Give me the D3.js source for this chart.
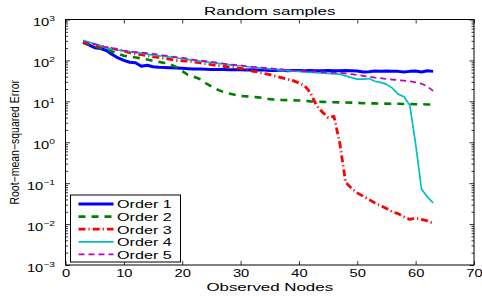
<!DOCTYPE html>
<html>
<head>
<meta charset="utf-8">
<script src="https://cdn.jsdelivr.net/npm/d3@7"></script>
<style>
  body { margin: 0; background: #fff; }
  text { font-family: "Liberation Sans", Arial, sans-serif; fill: #000; }
</style>
</head>
<body>
<div id="chart"></div>
<script>
var width = 482;
var height = 297;

// observed nodes (x) and RMSE per order
var nodes = [3, 4, 5, 6, 7, 8, 9, 10, 11, 12, 13, 14, 15, 16, 17, 18, 19, 20, 21, 22,
  23, 24, 25, 26, 27, 28, 29, 30, 31, 32, 33, 34, 35, 36, 37, 38, 39, 40, 41, 42,
  43, 44, 45, 46, 47, 48, 49, 50, 51, 52, 53, 54, 55, 56, 57, 58, 59, 60, 61, 62, 63];

var order1 = [275, 240, 205, 195, 175, 140, 115, 100, 90, 88, 72, 76, 70, 68, 67, 66, 65, 64, 63, 62,
  62, 61, 60, 60, 60, 59, 59, 59, 58, 59, 58, 58, 57, 57, 58, 56, 57, 57, 56, 57,
  56, 56, 57, 56, 56, 57, 56, 55, 52, 53, 55, 54, 55, 54, 54, 52, 54, 55, 52, 56, 54];

var order2 = [270, 245, 220, 200, 185, 165, 145, 130, 125, 118, 112, 105, 98, 92, 86, 80, 68, 55, 44, 40,
  35, 28, 23, 19.5, 17, 15.5, 14.5, 13.5, 13.2, 13, 12.5, 12, 11.3, 11, 10.8, 10.7, 10.6, 10.5, 10.3, 10,
  9.8, 9.7, 9.6, 9.5, 9.4, 9.4, 9.3, 9.2, 9.0, 8.9, 8.9, 8.8, 8.8, 8.7, 8.7, 8.6, 8.6, 8.5, 8.5, 8.4, 8.4];

var order3 = [285, 260, 240, 220, 210, 195, 185, 170, 155, 145, 138, 130, 122, 118, 112, 106, 100, 98, 96, 92,
  88, 83, 79, 75, 72, 69, 66, 64, 60, 55, 52, 48, 45, 41, 38, 35, 32, 28, 24, 16,
  8, 5.5, 4.0, 4.3, 0.95, 0.105, 0.075, 0.058, 0.048, 0.04, 0.033, 0.028, 0.024, 0.02, 0.018, 0.015, 0.013, 0.014, 0.013, 0.012, 0.0105];

var order4 = [310, 280, 255, 230, 205, 190, 180, 172, 165, 158, 150, 142, 135, 130, 125, 120, 116, 110, 105, 100,
  96, 92, 88, 85, 82, 79, 76, 74, 71, 68, 66, 64, 62, 60, 58, 56, 55, 54, 52, 51,
  50, 49, 48, 47, 46, 42, 38, 35, 35, 36, 31, 29, 26, 21, 15, 13, 8, 0.9, 0.072, 0.046, 0.033];

var order5 = [290, 270, 250, 225, 210, 195, 180, 172, 165, 160, 155, 150, 145, 138, 132, 125, 120, 115, 110, 104,
  100, 96, 92, 88, 84, 80, 78, 76, 72, 70, 68, 66, 64, 62, 60, 59, 57, 56, 55, 54,
  53, 52, 51, 50, 50, 48, 46, 44, 42, 40, 38, 37, 35, 34, 33, 32, 31, 29, 27, 23, 18];

var seriesNames = ['Order 1', 'Order 2', 'Order 3', 'Order 4', 'Order 5'];
var xTicks = [0, 10, 20, 30, 40, 50, 60, 70];
var yTickExps = [-3, -2, -1, 0, 1, 2, 3];

(function() {
  var styles = [
    { color: '#0000ff', w: 3, dash: null },
    { color: '#008000', w: 2.6, dash: '7,6' },
    { color: '#ff0000', w: 2.8, dash: '7,3,1.2,3' },
    { color: '#00bfbf', w: 1.7, dash: null },
    { color: '#bf00bf', w: 1.7, dash: '6,4' }
  ];

  var pLeft = 65.5, pRight = 474, pTop = 19.5, pBottom = 265;
  var stretch = 1.47;

  var svg = d3.select('#chart').append('svg')
    .attr('width', width)
    .attr('height', height);

  var x = d3.scaleLinear().domain([0, 70]).range([pLeft, pRight]);
  var y = d3.scaleLog().domain([1e-3, 1e3]).range([pBottom, pTop]);

  // minor log ticks
  var minor = [];
  yTickExps.slice(0, -1).forEach(function(e) {
    for (var k = 2; k <= 9; k++) minor.push(k * Math.pow(10, e));
  });

  svg.append('clipPath').attr('id', 'plotclip')
    .append('rect')
    .attr('x', pLeft).attr('y', pTop)
    .attr('width', pRight - pLeft).attr('height', pBottom - pTop);

  var lineGroup = svg.append('g').attr('clip-path', 'url(#plotclip)');
  var line = d3.line()
    .x(function(d) { return x(d[0]); })
    .y(function(d) { return y(d[1]); });

  [order1, order2, order3, order4, order5].forEach(function(vals, i) {
    var pts = nodes.map(function(n, j) { return [n, vals[j]]; });
    lineGroup.append('path')
      .datum(pts)
      .attr('d', line)
      .attr('fill', 'none')
      .attr('stroke', styles[i].color)
      .attr('stroke-width', styles[i].w)
      .attr('stroke-dasharray', styles[i].dash)
      .attr('stroke-linejoin', 'round');
  });

  // axes, inward ticks on all four sides
  function styleAxis(g) {
    g.select('.domain').remove();
    g.selectAll('line').attr('stroke', '#000').attr('stroke-width', 0.8);
  }

  svg.append('g')
    .attr('transform', 'translate(0,' + pBottom + ')')
    .call(d3.axisBottom(x).tickValues(xTicks).tickSize(-4).tickPadding(5).tickFormat(d3.format('d')))
    .call(styleAxis)
    .call(function(g) {
      g.selectAll('text')
        .attr('font-size', 10)
        .attr('font-family', '"Liberation Sans", Arial, sans-serif')
        .attr('transform', 'scale(' + stretch + ',1)');
    });

  svg.append('g')
    .attr('transform', 'translate(0,' + pTop + ')')
    .call(d3.axisTop(x).tickValues(xTicks).tickSize(-4).tickFormat(''))
    .call(styleAxis);

  var yMajor = yTickExps.map(function(e) { return Math.pow(10, e); });

  svg.append('g')
    .attr('transform', 'translate(' + pLeft + ',0)')
    .call(d3.axisLeft(y).tickValues(yMajor).tickSize(-4.5).tickFormat(''))
    .call(styleAxis);
  svg.append('g')
    .attr('transform', 'translate(' + pLeft + ',0)')
    .call(d3.axisLeft(y).tickValues(minor).tickSize(-2.5).tickFormat(''))
    .call(styleAxis);
  svg.append('g')
    .attr('transform', 'translate(' + pRight + ',0)')
    .call(d3.axisRight(y).tickValues(yMajor).tickSize(-4.5).tickFormat(''))
    .call(styleAxis);
  svg.append('g')
    .attr('transform', 'translate(' + pRight + ',0)')
    .call(d3.axisRight(y).tickValues(minor).tickSize(-2.5).tickFormat(''))
    .call(styleAxis);

  // y tick labels 10^e
  var yLab = svg.append('g');
  yTickExps.forEach(function(e) {
    var g = yLab.append('g')
      .attr('transform', 'translate(' + (pLeft - 10.5) + ',' + (y(Math.pow(10, e)) + 6.5) + ') scale(' + stretch + ',1)');
    var t = g.append('text').attr('text-anchor', 'end').attr('font-size', 10);
    t.append('tspan').text('10');
    t.append('tspan').attr('font-size', 7).attr('dy', -5).text(e < 0 ? '\u2212' + (-e) : e);
  });

  // box
  svg.append('rect')
    .attr('x', pLeft).attr('y', pTop)
    .attr('width', pRight - pLeft).attr('height', pBottom - pTop)
    .attr('fill', 'none').attr('stroke', '#000').attr('stroke-width', 1);

  // title and axis labels
  svg.append('g')
    .attr('transform', 'translate(' + ((pLeft + pRight) / 2) + ',15) scale(' + stretch + ',1)')
    .append('text').attr('text-anchor', 'middle').attr('font-size', 11.5)
    .text('Random samples');

  svg.append('g')
    .attr('transform', 'translate(' + ((pLeft + pRight) / 2) + ',291) scale(' + stretch + ',1)')
    .append('text').attr('text-anchor', 'middle').attr('font-size', 11.5)
    .text('Observed Nodes');

  svg.append('g')
    .attr('transform', 'translate(19,' + ((pTop + pBottom) / 2) + ') scale(1.15,1) rotate(-90)')
    .append('text')
    .attr('text-anchor', 'middle').attr('font-size', 10.5)
    .text('Root\u2212mean\u2212squared Error');

  // legend
  var legend = svg.append('g');
  legend.append('rect')
    .attr('x', 70.5).attr('y', 195)
    .attr('width', 110).attr('height', 67)
    .attr('fill', '#fff').attr('stroke', '#000').attr('stroke-width', 1);

  seriesNames.forEach(function(name, i) {
    var ly = 204 + i * 12.6;
    legend.append('line')
      .attr('x1', 78.5).attr('x2', 113.5)
      .attr('y1', ly).attr('y2', ly)
      .attr('stroke', styles[i].color)
      .attr('stroke-width', styles[i].w)
      .attr('stroke-dasharray', styles[i].dash);
    legend.append('g')
      .attr('transform', 'translate(117,' + (ly + 4.3) + ') scale(' + stretch + ',1)')
      .append('text').attr('font-size', 11).text(name);
  });
})();
</script>
</body>
</html>
